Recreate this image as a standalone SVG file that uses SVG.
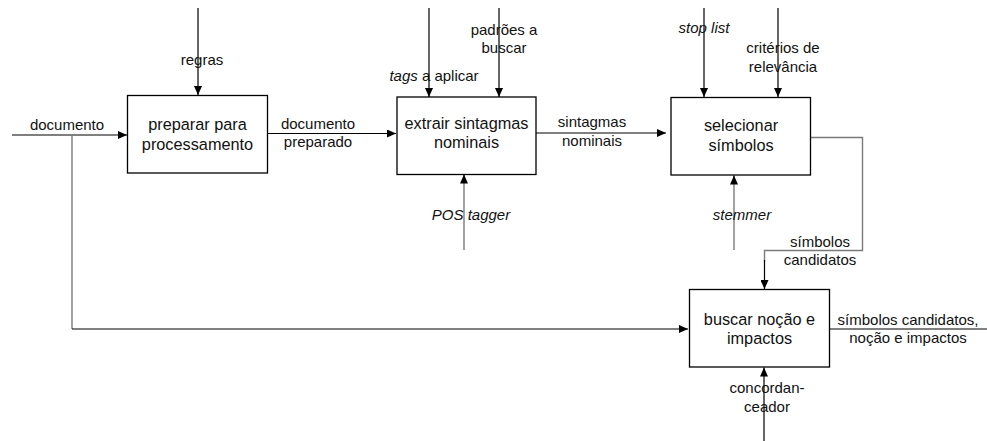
<svg xmlns="http://www.w3.org/2000/svg" width="987" height="441" viewBox="0 0 987 441">
<style>
.box{fill:#fff;stroke:#000;stroke-width:1.3}
.bt{font-family:"Liberation Sans",Arial,sans-serif;font-size:16.3px;fill:#111;text-anchor:middle}
.lb{font-family:"Liberation Sans",Arial,sans-serif;font-size:15px;fill:#111;text-anchor:middle}
.it{font-style:italic}
.k{fill:none;stroke:#000;stroke-width:1.2}
.g{fill:none;stroke:#7a7a7a;stroke-width:1.4}
</style>
<defs>
<marker id="ah" markerWidth="10" markerHeight="8" refX="9" refY="4" orient="auto" markerUnits="userSpaceOnUse">
<path d="M0,0 L9,4 L0,8 Z" fill="#000"/>
</marker>
</defs>
<g id="connectors">
<path class="k" d="M12,135 H127" marker-end="url(#ah)"/>
<path class="g" d="M72,135 V329"/>
<path class="k" d="M72,329 H688" marker-end="url(#ah)"/>
<path class="k" d="M198,8 V95" marker-end="url(#ah)"/>
<path class="k" d="M267,133.5 H396" marker-end="url(#ah)"/>
<path class="k" d="M429,8 V97" marker-end="url(#ah)"/>
<path class="k" d="M499,8 V97" marker-end="url(#ah)"/>
<path class="g" d="M464,250 V182"/>
<path class="k" d="M464,183 V174.5" marker-end="url(#ah)"/>
<path class="k" d="M536,133 H666" marker-end="url(#ah)"/>
<path class="k" d="M704,8 V97" marker-end="url(#ah)"/>
<path class="k" d="M778,8 V97" marker-end="url(#ah)"/>
<path class="g" d="M734,250 V183"/>
<path class="k" d="M734,184 V175.5" marker-end="url(#ah)"/>
<path class="g" d="M810,137.5 H862.5 V250.5 H764.5 V262"/>
<path class="k" d="M764.5,260 V289" marker-end="url(#ah)"/>
<path class="k" d="M829,329 H987"/>
<path class="k" d="M764,441 V367.5" marker-end="url(#ah)"/>
</g>
<g id="labels">
<text class="lb" x="202" y="65">regras</text>
<text class="lb" x="67" y="130">documento</text>
<text class="lb" x="318" y="128.5">documento</text>
<text class="lb" x="318" y="146.5">preparado</text>
<text class="lb" x="504" y="35">padrões a</text>
<text class="lb" x="504" y="53">buscar</text>
<text class="lb" x="434" y="81"><tspan class="it">tags</tspan> a aplicar</text>
<text class="lb it" x="471" y="220">POS tagger</text>
<text class="lb" x="592" y="127">sintagmas</text>
<text class="lb" x="592" y="146">nominais</text>
<text class="lb it" x="704" y="33">stop list</text>
<text class="lb" x="783" y="53">critérios de</text>
<text class="lb" x="783" y="72">relevância</text>
<text class="lb it" x="742" y="220">stemmer</text>
<text class="lb" x="820" y="247">símbolos</text>
<text class="lb" x="820" y="265">candidatos</text>
<text class="lb" x="908" y="325">símbolos candidatos,</text>
<text class="lb" x="908" y="343">noção e impactos</text>
<text class="lb" x="767" y="393">concordan-</text>
<text class="lb" x="767" y="412">ceador</text>
</g>
<g id="n1">
<rect class="box" x="127.5" y="95.5" width="140" height="77.5"/>
<text class="bt" x="197.5" y="130">preparar para</text>
<text class="bt" x="197.5" y="150">processamento</text>
</g>
<g id="n2">
<rect class="box" x="397" y="97" width="139" height="77.5"/>
<text class="bt" x="466.5" y="128.5">extrair sintagmas</text>
<text class="bt" x="466.5" y="148">nominais</text>
</g>
<g id="n3">
<rect class="box" x="671" y="97.5" width="139.5" height="77.5"/>
<text class="bt" x="741" y="130.5">selecionar</text>
<text class="bt" x="741" y="151">símbolos</text>
</g>
<g id="n5">
<rect class="box" x="689.5" y="289.5" width="140" height="77.5"/>
<text class="bt" x="759.5" y="324.5">buscar noção e</text>
<text class="bt" x="759.5" y="343.5">impactos</text>
</g>
</svg>
